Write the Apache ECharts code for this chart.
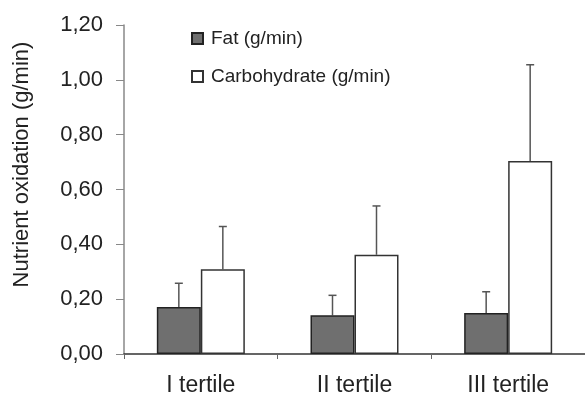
<!DOCTYPE html>
<html>
<head>
<meta charset="utf-8">
<script src="https://cdn.jsdelivr.net/npm/echarts@6/dist/echarts.min.js"></script>
<style>
  html, body { margin: 0; padding: 0; background: #fff; }
  #chart { width: 585px; height: 400px; }
</style>
</head>
<body>
<div id="chart"></div>
<script>
// values
const categories = ['I tertile', 'II tertile', 'III tertile'];
const fatMean = [0.171, 0.141, 0.150];
const fatSd = [0.087, 0.073, 0.077];
const carbMean = [0.309, 0.362, 0.704];
const carbSd = [0.156, 0.178, 0.351];

const fmt = (v) => v.toFixed(2).replace('.', ',');

// whisker going up from the bar top, with a small cap
function errorBar(offset) {
  return function (params, api) {
    const i = api.value(0);
    const top = api.coord([i, api.value(2)]);
    const base = api.coord([i, api.value(1)]);
    const x = top[0] + offset;
    return {
      type: 'group',
      children: [
        { type: 'line', shape: { x1: x, y1: base[1], x2: x, y2: top[1] },
          style: { stroke: '#555', lineWidth: 1.5 } },
        { type: 'line', shape: { x1: x - 4, y1: top[1], x2: x + 4, y2: top[1] },
          style: { stroke: '#555', lineWidth: 1.5 } }
      ]
    };
  };
}

const chart = echarts.init(document.getElementById('chart'));
chart.setOption({
  animation: false,
  textStyle: { fontFamily: '"Liberation Sans", Arial, sans-serif' },
  grid: { left: 124, top: 25, width: 463, bottom: 46 },
  legend: {
    orient: 'vertical',
    left: 186,
    top: 24,
    itemWidth: 11,
    itemHeight: 11,
    itemGap: 19,
    icon: 'rect',
    data: ['Fat (g/min)', 'Carbohydrate (g/min)'],
    textStyle: { fontSize: 19, color: '#222', padding: [0, 0, 0, 3] }
  },
  xAxis: {
    type: 'category',
    data: categories,
    axisLine: { lineStyle: { color: '#333', width: 1.5 } },
    axisTick: { show: true, length: 5, lineStyle: { color: '#666' } },
    axisLabel: { fontSize: 23, color: '#222', margin: 20 }
  },
  yAxis: {
    type: 'value',
    min: 0,
    max: 1.2,
    interval: 0.2,
    name: 'Nutrient oxidation (g/min)',
    nameLocation: 'middle',
    nameGap: 91,
    nameTextStyle: { fontSize: 22, color: '#222', padding: [0, 0, 0, 50] },
    splitLine: { show: false },
    axisLine: { show: true, lineStyle: { color: '#888', width: 1.5 } },
    axisTick: { show: true, length: 8, lineStyle: { color: '#888' } },
    axisLabel: { fontSize: 22, color: '#222', margin: 21, formatter: fmt }
  },
  series: [
    {
      name: 'Fat (g/min)',
      type: 'bar',
      data: fatMean,
      barWidth: 44,
      barGap: '0%',
      itemStyle: { color: '#6f6f6f', borderColor: '#222', borderWidth: 1.5 }
    },
    {
      name: 'Carbohydrate (g/min)',
      type: 'bar',
      data: carbMean,
      barWidth: 44,
      itemStyle: { color: '#fff', borderColor: '#333', borderWidth: 1.5 }
    },
    {
      type: 'custom',
      renderItem: errorBar(-22),
      data: fatMean.map((m, i) => [i, m, m + fatSd[i]]),
      encode: { x: 0, y: [1, 2] },
      z: 1
    },
    {
      type: 'custom',
      renderItem: errorBar(22),
      data: carbMean.map((m, i) => [i, m, m + carbSd[i]]),
      encode: { x: 0, y: [1, 2] },
      z: 1
    }
  ]
});
</script>
</body>
</html>
